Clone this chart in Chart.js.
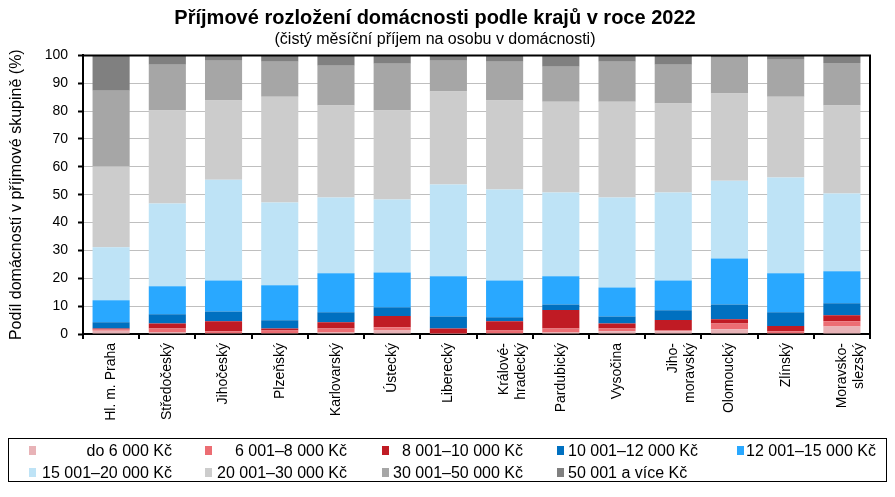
<!DOCTYPE html>
<html lang="cs">
<head>
<meta charset="utf-8">
<title>Příjmové rozložení domácnosti podle krajů v roce 2022</title>
<script src="https://cdn.jsdelivr.net/npm/chart.js@4.4.1/dist/chart.umd.min.js"></script>
<style>
    html, body { margin: 0; padding: 0; background: #fff; }
    #wrap { position: relative; width: 895px; height: 497px; font-family: Arial, "Liberation Sans", sans-serif; }
    #chart { position: absolute; left: 0; top: 0; }
    #legend {
        position: absolute; left: 8px; top: 438px; width: 879px; height: 44px;
        border: 1px solid #000; box-sizing: border-box;
    }
    .lg-item { position: absolute; height: 18px; font-size: 16px; line-height: 18px; color: #000; white-space: nowrap; }
    .lg-box { position: absolute; top: 4px; width: 7px; height: 9px; }
    .lg-text { position: absolute; top: 0; }
</style>
</head>
<body>
<div id="wrap">
    <canvas id="chart" width="895" height="497"></canvas>
    <div id="legend"></div>
</div>
<script>
// Kraje (categories)
const regions = [
    'Hl. m. Praha', 'Středočeský', 'Jihočeský', 'Plzeňský', 'Karlovarský', 'Ústecký',
    'Liberecký', ['Králové-', 'hradecký'], 'Pardubický', 'Vysočina', ['Jiho-', 'moravský'],
    'Olomoucký', 'Zlínský', ['Moravsko-', 'slezský']
];

// Příjmové skupiny (legend labels)
const groupNames = [
    'do 6 000 Kč', '6 001–8 000 Kč', '8 001–10 000 Kč', '10 001–12 000 Kč', '12 001–15 000 Kč',
    '15 001–20 000 Kč', '20 001–30 000 Kč', '30 001–50 000 Kč', '50 001 a více Kč'
];

// Podíl domácností (%) v každé skupině, po krajích
const upTo6000     = [1.2, 0.7, 0.3, 0.3, 0.5, 1.3, 0.1, 0.3, 0.5, 1.0, 1.0, 1.7, 0.3, 2.7];
const from6001     = [0.4, 1.3, 0.7, 1.0, 1.5, 1.1, 0.2, 1.0, 1.5, 1.0, 0.3, 2.1, 0.7, 1.9];
const from8001     = [0.4, 1.8, 3.6, 0.7, 2.2, 4.1, 1.7, 3.3, 6.6, 1.8, 3.7, 1.5, 1.9, 2.1];
const from10001    = [2.2, 3.3, 3.5, 2.9, 3.6, 3.1, 4.3, 1.4, 2.0, 2.5, 3.5, 5.3, 4.9, 4.3];
const from12001    = [7.9, 10.0, 11.1, 12.6, 14.0, 12.5, 14.4, 13.2, 10.1, 10.4, 10.7, 16.5, 14.0, 11.5];
const from15001    = [19.0, 29.7, 36.2, 29.7, 27.2, 26.2, 33.0, 32.7, 30.1, 32.3, 31.6, 27.9, 34.4, 27.9];
const from20001    = [29.0, 33.4, 28.4, 38.0, 33.0, 31.9, 33.3, 31.9, 32.6, 34.4, 31.9, 31.3, 29.0, 31.6];
const from30001    = [27.2, 16.4, 14.3, 12.5, 14.3, 16.8, 11.1, 13.9, 12.5, 14.3, 13.9, 12.9, 13.2, 15.3];
const from50001    = [12.7, 3.4, 1.9, 2.3, 3.7, 3.0, 1.9, 2.3, 4.1, 2.3, 3.4, 0.8, 1.6, 2.7];

const groupValues = [upTo6000, from6001, from8001, from10001, from12001, from15001, from20001, from30001, from50001];

const groupColors = [
    '#E8B3B7', '#EC6D73', '#C01B24', '#0070C0', '#29A8FF',
    '#BEE3F6', '#CCCCCC', '#A6A6A6', '#808080'
];

// Y axis tick labels
const yTicks = [0, 10, 20, 30, 40, 50, 60, 70, 80, 90, 100];

const FONT = 'Arial, "Liberation Sans", sans-serif';

// frame around the plot area
const plotFrame = {
    id: 'plotFrame',
    afterDatasetsDraw(chart) {
        const { ctx, chartArea: a } = chart;
        ctx.save();
        ctx.strokeStyle = '#000';
        ctx.lineWidth = 2;
        ctx.beginPath();
        ctx.moveTo(a.left, a.top);
        ctx.lineTo(a.right, a.top);
        ctx.lineTo(a.right, a.bottom);
        ctx.stroke();
        ctx.restore();
    }
};

new Chart(document.getElementById('chart'), {
    type: 'bar',
    data: {
        labels: regions,
        datasets: groupNames.map((name, i) => ({
            label: name,
            data: groupValues[i],
            backgroundColor: groupColors[i],
            borderWidth: 0,
            categoryPercentage: 1,
            barPercentage: 0.66
        }))
    },
    options: {
        responsive: false,
        animation: false,
        layout: { padding: { left: 0, right: 25, top: 0, bottom: 63 } },
        plugins: {
            legend: { display: false },
            tooltip: { enabled: false },
            title: {
                display: true,
                text: 'Příjmové rozložení domácnosti podle krajů v roce 2022',
                color: '#000',
                font: { family: FONT, size: 20, weight: 'bold', lineHeight: 1.15 },
                padding: { top: 7, bottom: 0 }
            },
            subtitle: {
                display: true,
                text: '(čistý měsíční příjem na osobu v domácnosti)',
                color: '#000',
                font: { family: FONT, size: 16, lineHeight: 1.15 },
                padding: { top: 0, bottom: 7 }
            }
        },
        scales: {
            x: {
                stacked: true,
                afterFit: s => { s.height = 100; },
                grid: { offset: true, drawOnChartArea: false, color: '#000', tickLength: 5, lineWidth: 2 },
                border: { color: '#000', width: 2 },
                ticks: {
                    color: '#000',
                    font: { family: FONT, size: 14 },
                    minRotation: 90, maxRotation: 90,
                    autoSkip: false,
                    padding: 4
                }
            },
            y: {
                stacked: true,
                min: 0, max: 100,
                afterFit: s => { s.width = 83; },
                afterBuildTicks: s => { s.ticks = yTicks.map(v => ({ value: v })); },
                grid: { color: '#BFBFBF', lineWidth: 1, tickColor: '#000', tickLength: 5, tickWidth: 2 },
                border: { color: '#000', width: 2 },
                ticks: { color: '#000', font: { family: FONT, size: 14 }, padding: 10 },
                title: {
                    display: true,
                    text: 'Podíl domácností v příjmové skupině (%)',
                    color: '#000',
                    font: { family: FONT, size: 16 },
                    padding: { top: 7, bottom: 0 }
                }
            }
        }
    },
    plugins: [plotFrame]
});

// legend grid (5 columns x 2 rows), built from groupNames/groupColors
const legendCols = [
    { box: 20, textEnd: 163, align: 'right' },
    { box: 196, textEnd: 338, align: 'right' },
    { box: 373, textEnd: 514, align: 'right' },
    { box: 548, textStart: 559, align: 'left' },
    { box: 728, textStart: 737, align: 'left' }
];
const legendRows = [3, 25];
const legendEl = document.getElementById('legend');
groupNames.forEach((name, i) => {
    const col = legendCols[i % 5];
    const row = legendRows[Math.floor(i / 5)];
    const item = document.createElement('div');
    item.className = 'lg-item';
    item.style.top = row + 'px';
    item.style.left = '0px';
    item.style.width = '879px';
    const box = document.createElement('span');
    box.className = 'lg-box';
    box.style.left = col.box + 'px';
    box.style.background = groupColors[i];
    const txt = document.createElement('span');
    txt.className = 'lg-text';
    txt.textContent = name;
    if (col.align === 'right') {
        txt.style.right = (879 - col.textEnd) + 'px';
    } else {
        txt.style.left = col.textStart + 'px';
    }
    item.appendChild(box);
    item.appendChild(txt);
    legendEl.appendChild(item);
});
</script>
</body>
</html>
